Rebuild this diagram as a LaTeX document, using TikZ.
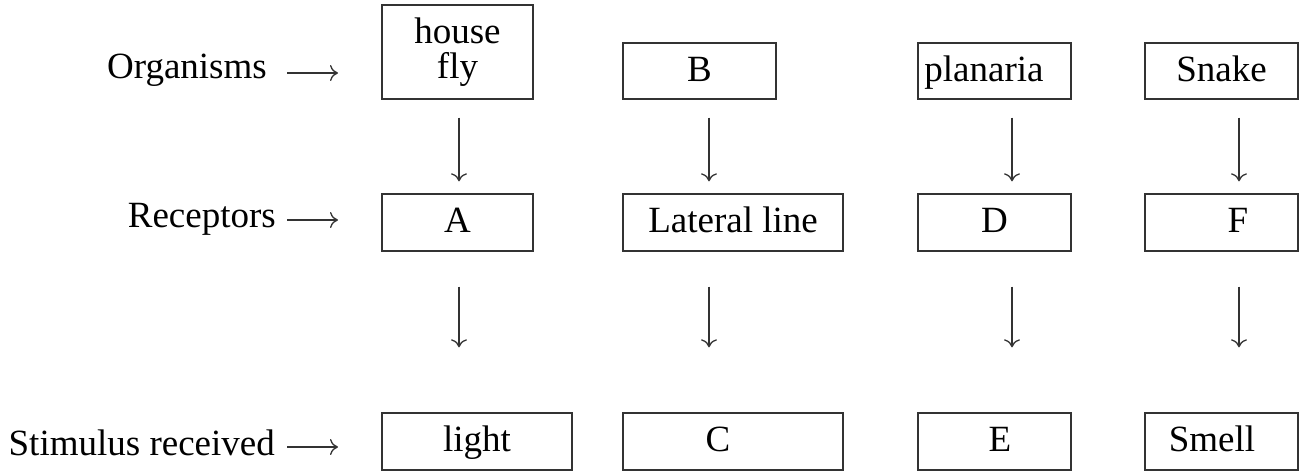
\documentclass[tikz,border=0pt]{standalone}
\usepackage{fontspec}
\setmainfont{Liberation Serif}
\usetikzlibrary{arrows.meta}
\tikzset{
  box/.style={draw=black!80, line width=1.4pt, inner sep=0pt, text height=26pt, text depth=6pt,
    font=\fontsize{37}{35}\selectfont},
  lbl/.style={inner sep=0pt, font=\fontsize{37}{35}\selectfont},
  arr/.style={draw=black!80, line width=1.3pt, -{To[length=8pt,width=16pt]}},
}
\newcommand{\shiftR}[1]{\hspace*{#1}}
\begin{document}
\begin{tikzpicture}[x=1pt,y=-1pt]
\useasboundingbox (0,0) rectangle (1305,474);
% row labels
\node[lbl, anchor=base east] (org) at (267,78) {Organisms};
\node[lbl, anchor=base east] (rec) at (276,227) {Receptors};
\node[lbl, anchor=base east] (sti) at (275,455) {Stimulus received};
\coordinate (orgE) at (338,73);
\coordinate (recE) at (338,220);
\coordinate (stiE) at (338,447);
\draw[arr] ([xshift=20pt,yshift=5pt]org.base east) -- (orgE);
\draw[arr] ([xshift=11pt,yshift=7pt]rec.base east) -- (recE);
\draw[arr] ([xshift=12pt,yshift=8pt]sti.base east) -- (stiE);
% row 1
\node[draw=black!80, line width=1.4pt, inner sep=0pt, align=center, minimum width=151pt, minimum height=94pt,
  font=\fontsize{37}{35}\selectfont] (hf) at (457.5,52) {house\\fly};
\node[box, minimum width=153pt, minimum height=56pt] (B) at (699.5,71) {B};
\node[box, minimum width=153pt, minimum height=56pt] (pl) at (994.5,71) {planaria\shiftR{21pt}};
\node[box, minimum width=153pt, minimum height=56pt] (sn) at (1221.5,71) {Snake};
% row 2
\node[box, minimum width=151pt, minimum height=57pt] (A) at (457.5,222.5) {A};
\node[box, minimum width=220pt, minimum height=57pt] (lat) at (733,222.5) {Lateral line};
\node[box, minimum width=153pt, minimum height=57pt] (D) at (994.5,222.5) {D};
\node[box, minimum width=153pt, minimum height=57pt] (F) at (1221.5,222.5) {\shiftR{33pt}F};
% row 3
\node[box, minimum width=190pt, minimum height=57pt] (li) at (477,441.5) {light};
\node[box, minimum width=220pt, minimum height=57pt] (C) at (733,441.5) {C\shiftR{30pt}};
\node[box, minimum width=153pt, minimum height=57pt] (E) at (994.5,441.5) {\shiftR{11pt}E};
\node[box, minimum width=153pt, minimum height=57pt] (sm) at (1221.5,441.5) {Smell\shiftR{19pt}};
% arrows row 1 -> row 2
\draw[arr, shorten <=18pt, shorten >=12pt] ([xshift=1.5pt]hf.south) -- ([xshift=1.5pt]hf.south |- A.north);
\draw[arr, shorten <=18pt, shorten >=12pt] ([xshift=9.5pt]B.south) -- ([xshift=9.5pt]B.south |- lat.north);
\draw[arr, shorten <=18pt, shorten >=12pt] ([xshift=17.5pt]pl.south) -- ([xshift=17.5pt]pl.south |- D.north);
\draw[arr, shorten <=18pt, shorten >=12pt] ([xshift=17.5pt]sn.south) -- ([xshift=17.5pt]sn.south |- F.north);
% arrows row 2 -> row 3
\draw[arr, shorten <=35pt, shorten >=65pt] ([xshift=1.5pt]A.south) -- ([xshift=1.5pt]A.south |- li.north);
\draw[arr, shorten <=35pt, shorten >=65pt] ([xshift=-24pt]lat.south) -- ([xshift=-24pt]lat.south |- C.north);
\draw[arr, shorten <=35pt, shorten >=65pt] ([xshift=17.5pt]D.south) -- ([xshift=17.5pt]D.south |- E.north);
\draw[arr, shorten <=35pt, shorten >=65pt] ([xshift=17.5pt]F.south) -- ([xshift=17.5pt]F.south |- sm.north);
\end{tikzpicture}
\end{document}
